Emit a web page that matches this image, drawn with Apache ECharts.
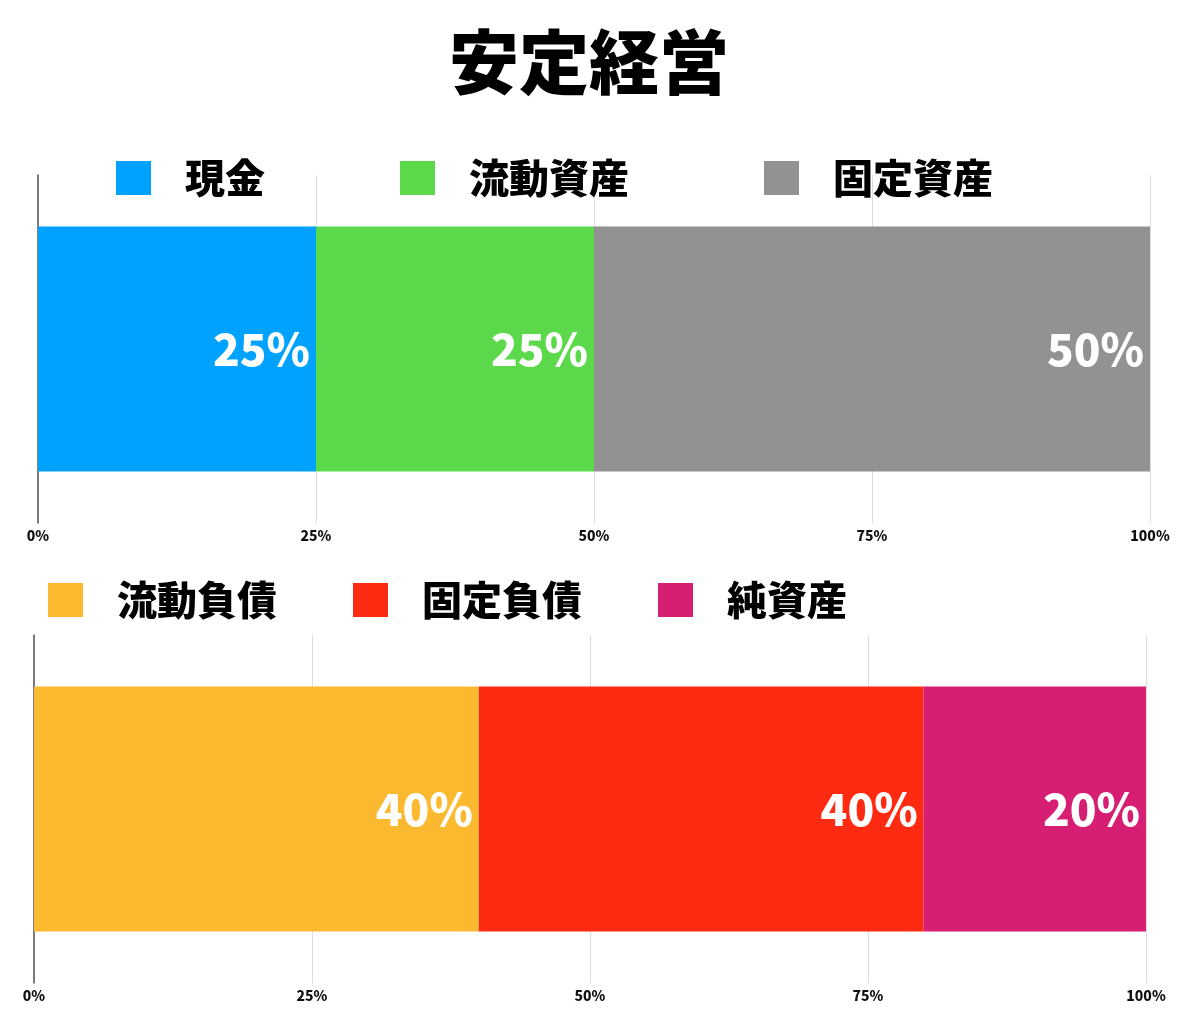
<!DOCTYPE html>
<html>
<head>
<meta charset="utf-8">
<script src="https://cdn.jsdelivr.net/npm/echarts@6/dist/echarts.min.js"></script>
<style>
html,body{margin:0;padding:0;background:#fff;}
#c{width:1200px;height:1021px;}
</style>
</head>
<body>
<div id="c"></div>
<script>
var titleText = '安定経営';
var assetNames = ['現金', '流動資産', '固定資産'];
var assetValues = [25, 25, 50];
var assetColors = ['#00A2FF', '#5BD94A', '#929292'];
var liabNames = ['流動負債', '固定負債', '純資産'];
var liabValues = [40, 40, 20];
var liabColors = ['#FBB92F', '#FF2A12', '#D61E73'];
var xTicks = [0, 25, 50, 75, 100];

var FONT = '"Noto Sans CJK JP", "Noto Sans", sans-serif';

function mkSeries(names, values, colors, idx) {
  return names.map(function (n, i) {
    return {
      name: n,
      type: 'bar',
      stack: 's' + idx,
      xAxisIndex: idx,
      yAxisIndex: idx,
      barWidth: 245,
      data: [values[i]],
      itemStyle: { color: colors[i] },
      label: {
        show: true,
        position: 'insideRight',
        distance: 6,
        formatter: '{c}%',
        color: '#fff',
        fontFamily: FONT,
        fontWeight: 900,
        fontSize: 44
      },
      emphasis: { disabled: true }
    };
  });
}

function mkXAxis(idx) {
  return {
    type: 'value',
    gridIndex: idx,
    min: xTicks[0],
    max: xTicks[xTicks.length - 1],
    interval: xTicks[1] - xTicks[0],
    axisLine: { show: false },
    axisTick: { show: false },
    splitLine: { show: true, lineStyle: { color: '#dddddd', width: 1 } },
    axisLabel: {
      formatter: '{value}%',
      color: '#111',
      fontFamily: FONT,
      fontWeight: 900,
      fontSize: 14,
      margin: 6
    }
  };
}

function mkYAxis(idx) {
  return {
    type: 'category',
    gridIndex: idx,
    data: [''],
    axisLine: { show: true, lineStyle: { color: '#555', width: 1.5 } },
    axisTick: { show: false },
    axisLabel: { show: false }
  };
}

var chart = echarts.init(document.getElementById('c'));
chart.setOption({
  backgroundColor: '#fff',
  animation: false,
  title: {
    text: titleText,
    left: 584,
    textAlign: 'center',
    top: 22,
    textStyle: { fontFamily: FONT, fontWeight: 900, fontSize: 70, color: '#000' }
  },
  legend: [
    {
      data: assetNames,
      left: 111,
      top: 153,
      itemWidth: 35,
      itemHeight: 34,
      itemGap: 135,
      icon: 'rect',
      selectedMode: false,
      textStyle: { fontFamily: FONT, fontWeight: 900, fontSize: 40, color: '#000', padding: [0, 0, 0, 29] }
    },
    {
      data: liabNames,
      left: 43,
      top: 575,
      itemWidth: 35,
      itemHeight: 34,
      itemGap: 76,
      icon: 'rect',
      selectedMode: false,
      textStyle: { fontFamily: FONT, fontWeight: 900, fontSize: 40, color: '#000', padding: [0, 0, 0, 29] }
    }
  ],
  grid: [
    { left: 38, right: 50, top: 175, height: 348 },
    { left: 34, right: 54, top: 635, height: 348 }
  ],
  xAxis: [mkXAxis(0), mkXAxis(1)],
  yAxis: [mkYAxis(0), mkYAxis(1)],
  series: mkSeries(assetNames, assetValues, assetColors, 0)
    .concat(mkSeries(liabNames, liabValues, liabColors, 1))
});
</script>
</body>
</html>
